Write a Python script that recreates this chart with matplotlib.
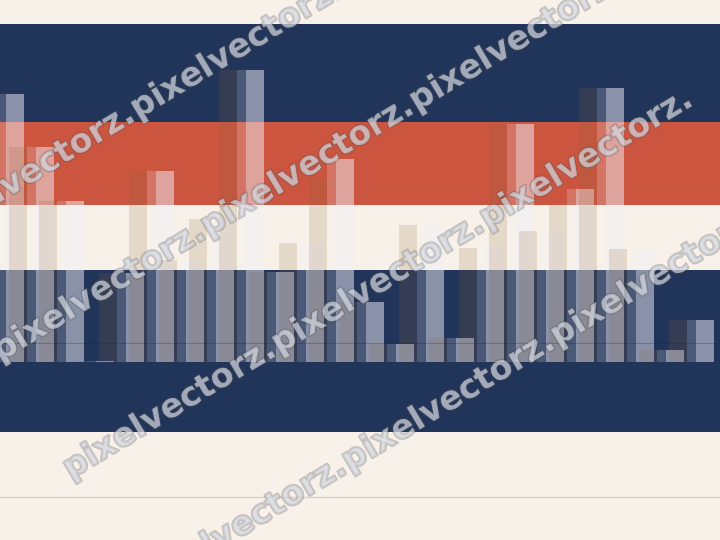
import numpy as np
import matplotlib
matplotlib.use('Agg')
import matplotlib.pyplot as plt
import matplotlib.patheffects as pe

# one slot per pair of bars, read left to right
slots = np.arange(-1, 23)
# dark bar on the left of each pair
back_vals = [89.3, 71.7, 53.7, 0.3, 29.7, 63.7, 34.0, 47.7, 97.3, 30.0, 39.7, 61.7,
             20.0, 6.0, 45.7, 8.0, 38.0, 79.3, 43.7, 52.3, 91.3, 37.7, 4.0, 14.0]
# light bar on the right of each pair
front_vals = [89.3, 71.7, 53.7, 0.3, 29.7, 63.7, 34.0, 47.7, 97.3, 30.0, 39.7, 67.7,
              20.0, 6.0, 45.7, 8.0, 38.0, 79.3, 43.7, 57.7, 91.3, 37.7, 4.0, 14.0]

# horizontal colour bands behind the bars
band_lo = [80.0, 52.3, 30.7, -23.3]
band_hi = [112.7, 80.0, 52.3, 30.7]
band_colors = ['#213459', '#cc5540', '#f8f1e9', '#213459']

# reference lines
ref_lines = [6.3, -45.0]

watermark = 'pixelvectorz.'

BG = '#f8f1e9'

fig = plt.figure(figsize=(7.2, 5.4), dpi=100)
fig.patch.set_facecolor(BG)
ax = fig.add_axes([0, 0, 1, 1])
ax.set_facecolor(BG)

for lo, hi, c in zip(band_lo, band_hi, band_colors):
    ax.axhspan(lo, hi, color=c, lw=0, zorder=1)

# light bars: a faint wide one plus a stronger narrow one on top
ax.bar(slots + 0.9, front_vals, width=0.9, align='edge', color='#f3f2f8', alpha=0.2, lw=0, zorder=2)
ax.bar(slots + 1.2, front_vals, width=0.6, align='edge', color='#f0f0fa', alpha=0.38, lw=0, zorder=3)
# dark bars on top
ax.bar(slots + 0.3, back_vals, width=0.6, align='edge', color='#8c693c', alpha=0.18, lw=0, zorder=4)

ax.axhline(ref_lines[0], color='#1a2238', lw=0.8, alpha=0.25, zorder=5)
ax.axhline(ref_lines[1], color='#d8d0c6', lw=1.0, zorder=5)

ax.set_xlim(0, 24)
ax.set_ylim(-59.3, 120.7)
ax.axis('off')

# watermark: 4 diagonal lines, 3 repeats each, in pixels from top-left
ang = 31
step = 243
ca, sa = np.cos(np.radians(ang)), np.sin(np.radians(ang))
line_gap = 137
start_x, start_y = 0, 362  # start of the 2nd line
for row in range(-1, 3):
    x0 = start_x + row * line_gap * sa
    y0 = start_y + row * line_gap * ca
    for n in range(3):
        px = x0 + n * step * ca
        py = y0 - n * step * sa
        fig.text(px / 720, 1 - py / 540, watermark, rotation=ang, rotation_mode='anchor',
                 ha='left', va='baseline', fontsize=24, fontweight='bold',
                 color='#d5d9e2', alpha=0.6, zorder=10,
                 path_effects=[pe.withStroke(linewidth=1.8, foreground='#505050', alpha=0.3)])

fig.savefig('out.png', dpi=100, facecolor=BG)
plt.close(fig)
